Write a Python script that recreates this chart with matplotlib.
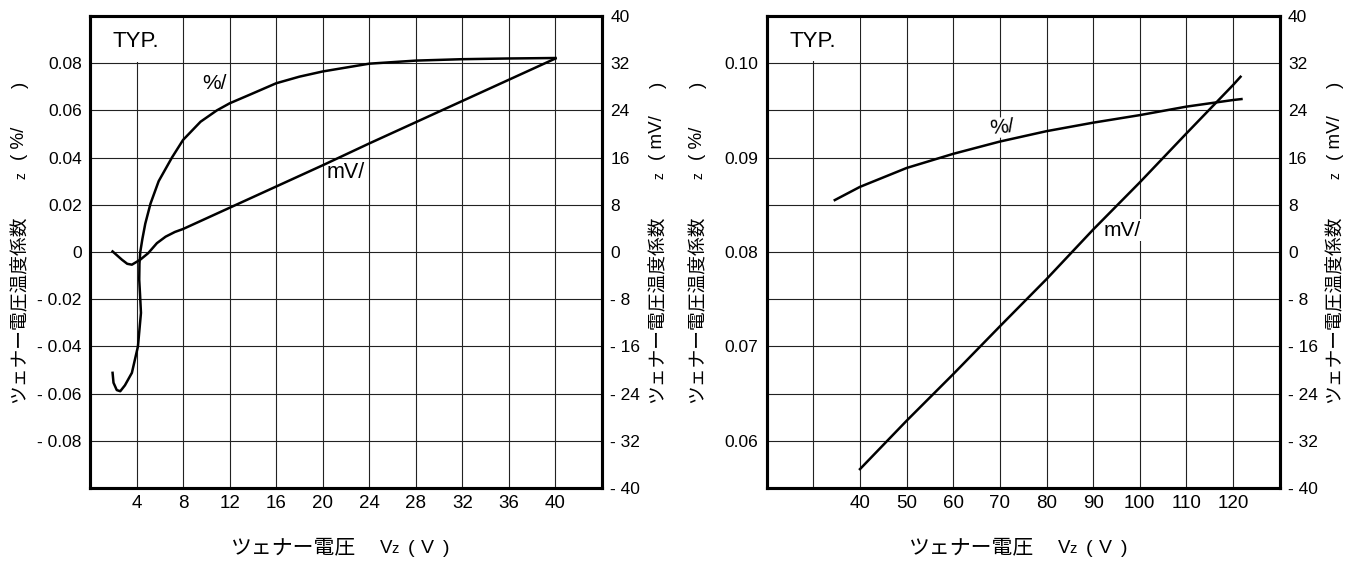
import numpy as np
import matplotlib.pyplot as plt
from matplotlib.patches import Rectangle

plt.rcParams['font.family'] = ['Liberation Sans', 'Noto Sans CJK JP', 'DejaVu Sans']

W, H = 1358, 563

# Left chart: zener voltage up to 40 V
left_pct_vz = [1.94, 2.02, 2.3, 2.6, 3.0, 3.6, 4.12, 4.38, 4.3, 4.23, 4.25, 4.32, 4.5,
               4.75, 5.2, 5.9, 7.04, 8.0, 9.5, 10.9, 12, 13.8, 16, 18, 20, 24, 28, 32,
               36, 40]
left_pct = [-0.0512, -0.0554, -0.0585, -0.059, -0.0565, -0.0512, -0.040, -0.0258,
            -0.018, -0.0117, -0.005, 0.0, 0.0055, 0.012, 0.0205, 0.030, 0.040, 0.0475,
            0.0552, 0.060, 0.063, 0.0668, 0.0715, 0.0743, 0.0765, 0.0798, 0.0811,
            0.0817, 0.082, 0.0822]
left_mv_vz = [1.94, 2.74, 3.2, 3.6, 4.32, 5.0, 5.75, 6.5, 7.3, 8.0, 12, 16, 20, 24, 28,
              32, 36, 40]
left_mv = [0.1, -1.3, -2.0, -2.15, -1.3, -0.2, 1.5, 2.6, 3.4, 3.9, 7.5, 11.1, 14.7,
           18.4, 22.0, 25.6, 29.2, 32.8]
left_xticks = [4, 8, 12, 16, 20, 24, 28, 32, 36, 40]
left_yticks = [-0.08, -0.06, -0.04, -0.02, 0.0, 0.02, 0.04, 0.06, 0.08]

# Right chart: zener voltage 35 - 122 V
right_pct_vz = [34.6, 40, 50, 60, 70, 80, 90, 100, 110, 120, 121.8]
right_pct = [0.0855, 0.0869, 0.0889, 0.0904, 0.0917, 0.0928, 0.0937, 0.0945, 0.0954,
             0.0961, 0.0962]
right_mv_vz = [40, 50, 60, 70, 80, 90, 100, 110, 120, 121.6]
right_mv = [-36.8, -28.6, -20.7, -12.6, -4.6, 3.8, 11.8, 20.1, 28.3, 29.7]
right_xticks = [30, 40, 50, 60, 70, 80, 90, 100, 110, 120]
right_xlabels = ['', '40', '50', '60', '70', '80', '90', '100', '110', '120']
right_yticks = [0.06, 0.065, 0.07, 0.075, 0.08, 0.085, 0.09, 0.095, 0.10]
right_ylabels = ['0.06', '', '0.07', '', '0.08', '', '0.09', '', '0.10']

mv_ticks = [-40, -32, -24, -16, -8, 0, 8, 16, 24, 32, 40]

ylabel_main = 'ツェナー電圧温度係数'
xlabel_main = 'ツェナー電圧'


def signed(v, fmt):
    if abs(v) < 1e-9:
        return '0'
    s = fmt.format(abs(v))
    return '- ' + s if v < 0 else s


def px(x, y):
    return x / W, 1 - y / H


def setup(ax, xlim, ylim, xt, xl, yt, yl):
    ax.set_xlim(xlim)
    ax.set_ylim(ylim)
    ax.set_xticks(xt)
    ax.set_xticklabels(xl)
    ax.set_yticks(yt)
    ax.set_yticklabels(yl)
    ax.grid(True, color='#222222', lw=0.8)
    ax.tick_params(axis='x', length=0, pad=5, labelsize=13.5)
    ax.tick_params(axis='y', length=0, pad=6, labelsize=12.5)
    for s in ax.spines.values():
        s.set_linewidth(2.2)
    ax2 = ax.twinx()
    ax2.set_ylim(-40, 40)
    ax2.set_yticks(mv_ticks)
    ax2.set_yticklabels([signed(v, '{:g}') for v in mv_ticks])
    ax2.tick_params(length=0, pad=6, labelsize=12.5)
    for s in ax2.spines.values():
        s.set_linewidth(2.2)
    return ax2


def vlabel(xc, unit):
    fig.text(*px(xc, 403), ylabel_main, rotation=90, ha='center', va='bottom', fontsize=13.5)
    fig.text(*px(xc + 1, 179), 'z', rotation=90, ha='center', va='bottom', fontsize=10)
    fig.text(*px(xc, 160), '( ' + unit, rotation=90, ha='center', va='bottom', fontsize=13.5)
    fig.text(*px(xc, 88), ')', rotation=90, ha='center', va='bottom', fontsize=13.5)


def hlabel(x0):
    yb = 553
    fig.text(*px(x0, yb), xlabel_main, ha='left', va='baseline', fontsize=15)
    fig.text(*px(x0 + 149, yb), 'V', ha='left', va='baseline', fontsize=13.5)
    fig.text(*px(x0 + 160, yb), 'z', ha='left', va='baseline', fontsize=10.5)
    fig.text(*px(x0 + 177, yb), '(', ha='left', va='baseline', fontsize=14)
    fig.text(*px(x0 + 190, yb), 'V', ha='left', va='baseline', fontsize=14)
    fig.text(*px(x0 + 212, yb), ')', ha='left', va='baseline', fontsize=14)


fig = plt.figure(figsize=(W / 100, H / 100), dpi=100)

# ---- left chart
ax = fig.add_axes([90 / W, 75 / H, 512 / W, 472 / H])
axr = setup(ax, (0, 44), (-0.10, 0.10), left_xticks, [str(v) for v in left_xticks],
            left_yticks, [signed(v, '{:.2f}') for v in left_yticks])
ax.add_patch(Rectangle((0, 0.0803), 7.93, 0.0197, facecolor='white', edgecolor='none', zorder=1.8))
ax.text(3.9, 0.0893, 'TYP.', ha='center', va='center', fontsize=16, zorder=3)
ax.plot(left_pct_vz, left_pct, color='black', lw=1.8, zorder=4)
axr.plot(left_mv_vz, left_mv, color='black', lw=1.8, zorder=4)
ax.text(10.7, 0.0716, '%/', ha='center', va='center', fontsize=15, zorder=3,
        bbox=dict(facecolor='white', edgecolor='none', pad=1.5))
ax.text(22.0, 0.0337, 'mV/', ha='center', va='center', fontsize=15.5, zorder=3,
        bbox=dict(facecolor='white', edgecolor='none', pad=1.5))

# ---- right chart
bx = fig.add_axes([766.7 / W, 75 / H, 513 / W, 472 / H])
bxr = setup(bx, (20, 130), (0.055, 0.105), right_xticks, right_xlabels,
            right_yticks, right_ylabels)
bx.add_patch(Rectangle((20, 0.1002), 19.9, 0.0048, facecolor='white', edgecolor='none', zorder=1.8))
bx.text(29.8, 0.10228, 'TYP.', ha='center', va='center', fontsize=16, zorder=3)
bx.plot(right_pct_vz, right_pct, color='black', lw=1.8, zorder=4)
bxr.plot(right_mv_vz, right_mv, color='black', lw=1.8, zorder=4)
bx.text(70.5, 0.0932, '%/', ha='center', va='center', fontsize=15, zorder=3, rotation=5,
        bbox=dict(facecolor='white', edgecolor='none', pad=0.5))
bx.text(96.2, 0.0823, 'mV/', ha='center', va='center', fontsize=15, zorder=3,
        bbox=dict(facecolor='white', edgecolor='none', pad=1.0))

# axis titles
vlabel(20, '%/')
vlabel(658, 'mV/')
vlabel(698, '%/')
vlabel(1335, 'mV/')
hlabel(231)
hlabel(909)

fig.savefig('out.png', dpi=100)
